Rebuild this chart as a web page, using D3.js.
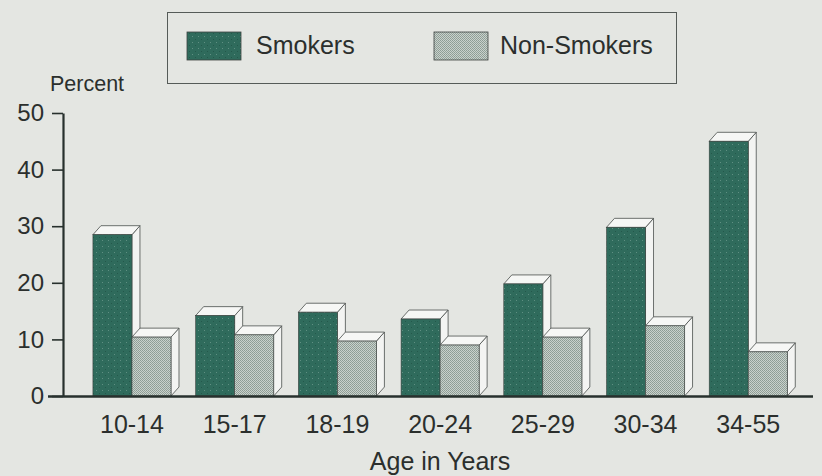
<!DOCTYPE html>
<html>
<head>
<meta charset="utf-8">
<script src="https://cdn.jsdelivr.net/npm/d3@7"></script>
<style>
  html, body { margin: 0; padding: 0; background: #e4e6e2; }
  svg { display: block; font-family: "Liberation Sans", Arial, Helvetica, sans-serif; }
</style>
</head>
<body>
<svg id="chart" width="822" height="476"></svg>
<script>
const categories = ["10-14", "15-17", "18-19", "20-24", "25-29", "30-34", "34-55"];
const seriesNames = ["Smokers", "Non-Smokers"];
const smokers = [28.5, 14.2, 14.8, 13.6, 19.8, 29.8, 45.0];
const nonSmokers = [10.4, 10.8, 9.7, 9.0, 10.4, 12.4, 7.8];
const yTicks = [0, 10, 20, 30, 40, 50];
const yLabel = "Percent";
const xLabel = "Age in Years";

const svg = d3.select("#chart");
const W = 822, H = 476;
svg.append("rect").attr("width", W).attr("height", H).attr("fill", "#e4e6e2");

const defs = svg.append("defs");
// stipple patterns
const pS = defs.append("pattern").attr("id", "patS").attr("patternUnits", "userSpaceOnUse")
  .attr("width", 6).attr("height", 6);
pS.append("rect").attr("width", 6).attr("height", 6).attr("fill", "#2f6b5c");
pS.append("rect").attr("x", 0).attr("y", 0).attr("width", 1).attr("height", 1).attr("fill", "#5f8f82");
pS.append("rect").attr("x", 3).attr("y", 3).attr("width", 1).attr("height", 1).attr("fill", "#24584b");
const pN = defs.append("pattern").attr("id", "patN").attr("patternUnits", "userSpaceOnUse")
  .attr("width", 2).attr("height", 2);
pN.append("rect").attr("width", 2).attr("height", 2).attr("fill", "#c9d1cc");
pN.append("rect").attr("x", 0).attr("y", 0).attr("width", 1).attr("height", 1).attr("fill", "#8c9c94");
pN.append("rect").attr("x", 1).attr("y", 1).attr("width", 1).attr("height", 1).attr("fill", "#93a29a");

const fills = ["url(#patS)", "url(#patN)"];

const y = d3.scaleLinear().domain([0, 50]).range([396, 113]);
const x = d3.scaleBand().domain(categories).range([80.6, 799.6])
  .paddingInner(0.24).paddingOuter(0.12);
const xs = d3.scaleBand().domain(seriesNames).range([0, x.bandwidth()]);

const dx = 8, dy = 9;
const data = categories.map((c, i) => ({ cat: c, vals: [smokers[i], nonSmokers[i]] }));

const bars = svg.append("g");
data.forEach(d => {
  d.vals.forEach((v, j) => {
    const x0 = x(d.cat) + xs(seriesNames[j]);
    const x1 = x0 + xs.bandwidth();
    const yt = y(v), yb = y(0);
    const g = bars.append("g");
    // side face
    g.append("path")
      .attr("d", `M${x1},${yt} L${x1 + dx},${yt - dy} L${x1 + dx},${yb - dy} L${x1},${yb} Z`)
      .attr("fill", "#f3f4f2").attr("stroke", "#4a4f4c").attr("stroke-width", 0.8)
      .attr("stroke-linejoin", "round");
    // top face
    g.append("path")
      .attr("d", `M${x0},${yt} L${x0 + dx},${yt - dy} L${x1 + dx},${yt - dy} L${x1},${yt} Z`)
      .attr("fill", "#f6f7f5").attr("stroke", "#4a4f4c").attr("stroke-width", 0.8)
      .attr("stroke-linejoin", "round");
    // front face
    g.append("rect")
      .attr("x", x0).attr("y", yt).attr("width", xs.bandwidth()).attr("height", yb - yt)
      .attr("fill", fills[j]).attr("stroke", "#3d4340").attr("stroke-width", 0.6);
  });
});

// x axis line
svg.append("line").attr("x1", 48).attr("x2", 813).attr("y1", y(0) + 0.5).attr("y2", y(0) + 0.5)
  .attr("stroke", "#27302d").attr("stroke-width", 2.5);

// y axis
const yAxis = d3.axisLeft(y).tickValues(yTicks).tickSize(11).tickSizeOuter(0).tickPadding(8);
const ga = svg.append("g").attr("transform", "translate(63,0)").call(yAxis);
ga.select(".domain").attr("stroke", "#27302d").attr("stroke-width", 2.2);
ga.selectAll(".tick line").attr("stroke", "#27302d").attr("stroke-width", 1.6);
ga.selectAll(".tick text").attr("font-size", 24).attr("fill", "#2b2f2d")
  .attr("font-family", "'Liberation Sans', Arial, sans-serif");

// x labels
const xAxis = d3.axisBottom(x).tickSize(0).tickPadding(0);
const gx = svg.append("g").attr("transform", `translate(0,${y(0)})`).call(xAxis);
gx.select(".domain").remove();
gx.selectAll(".tick text").attr("font-size", 25).attr("fill", "#2b2f2d")
  .attr("dy", null).attr("y", 37)
  .attr("font-family", "'Liberation Sans', Arial, sans-serif");

// axis titles
svg.append("text").attr("x", 50).attr("y", 91).attr("font-size", 21.5).attr("fill", "#2b2f2d")
  .text(yLabel);
svg.append("text").attr("x", 440).attr("y", 470).attr("text-anchor", "middle")
  .attr("font-size", 25).attr("fill", "#2b2f2d").text(xLabel);

// legend
const lg = svg.append("g");
lg.append("rect").attr("x", 167.5).attr("y", 12.5).attr("width", 509).attr("height", 71)
  .attr("fill", "none").attr("stroke", "#555b58").attr("stroke-width", 1);
const legendX = [187, 434];
const legendTextX = [256, 500];
seriesNames.forEach((name, j) => {
  lg.append("rect").attr("x", legendX[j]).attr("y", 32).attr("width", 54).attr("height", 28)
    .attr("fill", fills[j]).attr("stroke", "#3d4340").attr("stroke-width", 0.8);
  lg.append("text").attr("x", legendTextX[j]).attr("y", 54).attr("font-size", 25)
    .attr("fill", "#2b2f2d").text(name);
});
</script>
</body>
</html>
